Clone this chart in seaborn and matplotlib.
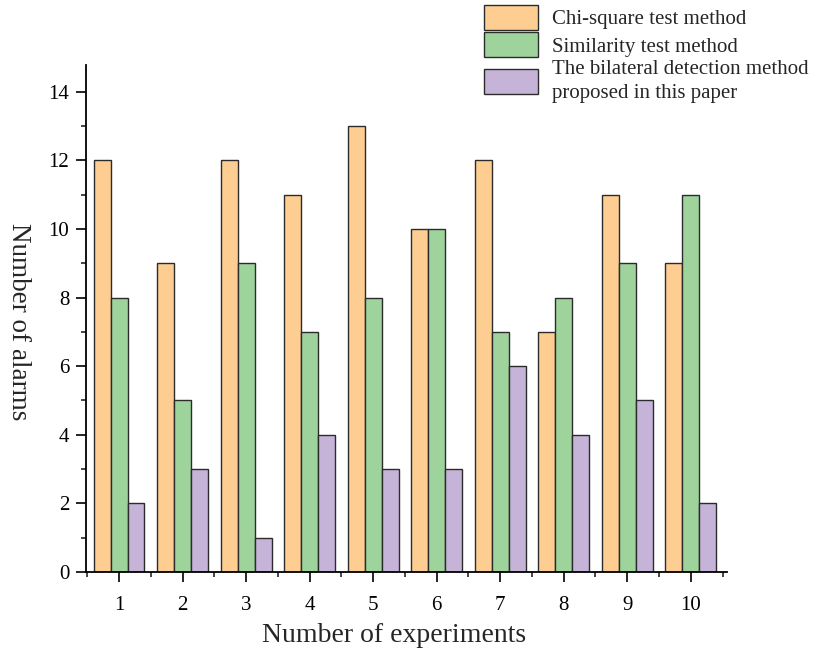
import pandas as pd
import seaborn as sns
import matplotlib.pyplot as plt
from matplotlib.ticker import MultipleLocator, FixedLocator

experiments = ['1', '2', '3', '4', '5', '6', '7', '8', '9', '10']
chi_square = [12, 9, 12, 11, 13, 10, 12, 7, 11, 9]
similarity = [8, 5, 9, 7, 8, 10, 7, 8, 9, 11]
bilateral = [2, 3, 1, 4, 3, 3, 6, 4, 5, 2]
methods = ['Chi-square test method', 'Similarity test method',
           'The bilateral detection method\nproposed in this paper']
colors = ['#FDCD91', '#9ED49B', '#C6B4D8']

df = pd.DataFrame({
    'experiment': experiments * 3,
    'alarms': chi_square + similarity + bilateral,
    'method': [methods[0]] * 10 + [methods[1]] * 10 + [methods[2]] * 10,
})

sns.set_style('ticks')
plt.rcParams['font.family'] = ['Liberation Serif', 'DejaVu Serif']

fig = plt.figure(figsize=(8.14, 6.52), dpi=100)
ax = fig.add_axes([0.1057, 0.1227, 0.7874, 0.7776])

sns.barplot(data=df, x='experiment', y='alarms', hue='method', order=experiments,
            hue_order=methods, palette=colors, width=0.8, gap=0,
            edgecolor='#2b2b2b', linewidth=1.0, saturation=1, ax=ax)

ax.set_xlim(-0.52, 9.57)
ax.set_ylim(0, 14.78)
ax.yaxis.set_major_locator(MultipleLocator(2))
ax.yaxis.set_minor_locator(MultipleLocator(1))
ax.xaxis.set_minor_locator(FixedLocator([i + 0.5 for i in range(-1, 10)]))
ax.tick_params(axis='both', which='major', direction='out', length=7, width=1.2,
               labelsize=15, colors='black')
ax.tick_params(axis='both', which='minor', direction='out', length=3.5, width=1.2)
ax.tick_params(axis='x', which='major', pad=10)
ax.tick_params(axis='y', which='major', pad=5)

for s in ['top', 'right']:
    ax.spines[s].set_visible(False)
for s in ['left', 'bottom']:
    ax.spines[s].set_linewidth(1.3)
    ax.spines[s].set_color('black')

ax.set_xlabel('Number of experiments', fontsize=20, va='center', ha='center')
ax.xaxis.set_label_coords(0.481, -0.126)
ax.set_ylabel('Number of alarms', fontsize=19.5, rotation=270, va='center', ha='center')
ax.yaxis.set_label_coords(-0.105, 0.493)

ax.get_legend().remove()
handles, labels = ax.get_legend_handles_labels()
leg = fig.legend(handles, labels, loc='upper left', bbox_to_anchor=(0.5946, 0.992),
                 frameon=False, fontsize=15, handlelength=2.6, handleheight=1.45,
                 handletextpad=0.67, labelspacing=0.12, borderaxespad=0, borderpad=0)
for t in leg.get_texts():
    t.set_linespacing(1.35)

plt.savefig('out.png', dpi=100)
